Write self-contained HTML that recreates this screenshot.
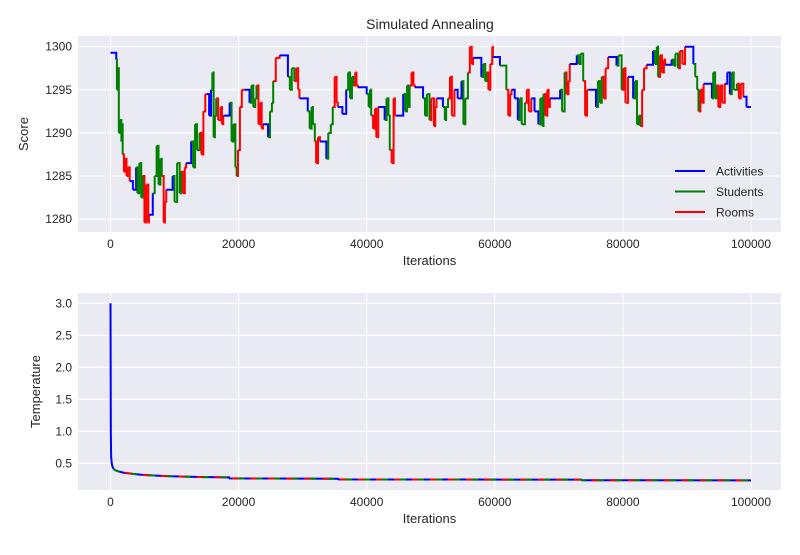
<!DOCTYPE html>
<html><head><meta charset="utf-8"><style>
body{margin:0;background:#fff;}
text{font-family:"Liberation Sans",Arial,sans-serif;fill:#262626;}
</style></head><body>
<svg id="svg" width="800" height="550" xmlns="http://www.w3.org/2000/svg">
<rect x="0" y="0" width="800" height="550" fill="#fff"/>
<g id="topPanel"></g>
<g id="botPanel"></g>
</svg>
<script>
const xTicks = [0, 20000, 40000, 60000, 80000, 100000];
const scoreTicks = [1280, 1285, 1290, 1295, 1300];
const tempTicks = [0.5, 1.0, 1.5, 2.0, 2.5, 3.0];
const moveNames = ["Activities", "Students", "Rooms"];
// iterations in thousands, score, move type (A/S/R)
const scoreIters = [0,0.9,1.0,1.1,1.3,1.5,1.7,1.8,1.9,2.1,2.3,2.5,2.7,3.0,3.5,4.0,4.2,4.5,4.8,5.0,5.3,5.6,5.9,6.0,6.6,6.9,7.2,7.5,7.8,8.0,8.3,8.5,8.7,9.7,10.0,10.4,10.8,11.0,11.3,11.6,11.8,12.6,12.9,13.2,13.5,13.9,14.2,14.5,14.8,15.0,15.4,15.7,15.9,16.1,16.3,16.5,16.8,17.2,17.4,17.6,18.6,18.9,19.2,19.5,19.7,19.9,20.2,20.5,20.9,21.7,22.0,22.3,22.6,22.8,23.1,23.4,23.6,23.8,24.6,24.9,25.2,25.4,25.8,26.4,27.7,28.0,28.3,28.7,29.0,29.3,29.5,30.8,31.1,31.4,31.6,31.9,32.1,32.4,32.7,33.7,34.0,34.4,34.7,35.0,35.3,35.5,36.2,36.8,37.1,37.4,37.7,37.9,38.2,38.4,38.6,40.0,40.3,40.5,40.7,41.0,41.3,41.5,41.8,42.8,43.1,43.4,43.6,43.9,44.2,44.4,44.6,45.7,46.0,46.3,46.5,46.7,47.0,47.3,47.5,48.8,49.1,49.4,49.8,50.1,50.5,50.7,50.9,51.9,52.2,52.4,52.7,53.0,53.3,53.7,54.2,54.8,55.1,55.4,55.8,56.1,56.4,56.6,57.9,58.2,58.5,58.7,59.0,59.3,59.6,59.7,60.8,61.8,62.1,62.4,62.6,63.1,63.6,63.9,64.2,64.7,65.0,65.3,65.7,66.2,66.8,67.1,67.4,67.6,67.9,68.2,68.4,68.6,70.2,70.5,70.9,71.2,71.5,71.7,72.8,73.1,73.4,73.8,74.1,74.4,74.7,75.8,76.1,76.4,76.7,77.0,77.3,77.7,79.0,79.3,79.8,80.1,80.4,80.8,81.6,81.9,82.2,82.5,82.7,83.0,83.3,83.7,84.7,85.0,85.3,85.5,85.8,86.1,86.4,86.6,87.6,87.9,88.2,88.6,88.9,89.3,89.7,91.0,91.3,91.6,91.8,92.1,92.3,92.6,93.9,94.1,94.4,94.6,94.9,95.2,95.5,95.9,96.3,96.7,97.0,97.3,97.8,98.1,98.4,98.8,99.3,100];
const scoreValues = [1299.3,1298.5,1295,1297.5,1290,1291.5,1289,1291,1287.5,1285.5,1287,1285,1286,1284.4,1283.4,1286,1283,1286.5,1282.5,1285,1279.6,1284,1279.6,1280.5,1283,1285,1288.5,1284,1287,1285,1279.6,1282,1283.4,1285,1282,1286.5,1283,1285.5,1283,1286,1286.5,1289,1286,1291,1288,1290,1287.5,1292.5,1294.5,1294.5,1292,1295,1297,1289.5,1292,1294,1291.5,1293,1291,1292,1293.5,1289,1291,1286,1285,1288,1293,1295,1295,1293.5,1295.5,1293,1294,1295.5,1291,1293.5,1290.5,1291,1289.5,1292.5,1293.5,1296,1298.7,1299,1296.5,1295,1297.5,1296,1297.5,1295,1294,1292.5,1290.5,1293,1291,1289,1286.5,1289.5,1289,1287,1290,1291,1293,1296.5,1293.5,1293,1292.2,1295,1297,1294,1296.5,1295.5,1297,1295.5,1295.3,1294.5,1293,1295,1292,1290.5,1292.8,1289.5,1293,1291.5,1294,1292,1288,1286.5,1294,1292,1292,1294.5,1292.5,1295.5,1293,1295.5,1297,1295.5,1295.3,1294,1292,1294.5,1291.5,1294,1290.8,1293,1294,1293,1291.5,1293,1294,1296.5,1292,1295,1294,1296,1291,1294,1297,1300,1298,1298.7,1296.5,1298,1296,1297,1295,1298,1300,1298.8,1297.8,1295,1292,1294.5,1295,1294,1291.5,1294,1291,1293.5,1295,1292.5,1294,1292.5,1291,1294,1290.8,1294.5,1292,1295,1293,1294,1295,1292.5,1297,1294.5,1296,1298,1299,1298,1299.2,1296,1292,1295,1295,1293,1296,1293.5,1296.5,1294,1297.5,1298.8,1297.8,1299,1295,1297.5,1293.5,1296.5,1294,1296,1291,1292,1290.8,1295,1297.5,1297.9,1299.5,1298,1300,1296.5,1299,1297,1298.5,1297.9,1298.5,1297.8,1299.2,1297.5,1299.5,1298,1300,1298,1296.5,1295,1292.5,1295,1293.5,1295.7,1294,1297,1294,1295.5,1293,1295.5,1293.5,1295.7,1297,1294.5,1297,1295,1295.7,1294,1295.7,1294.2,1293,1293];
const scoreMoves = ("A SSSSSSS RRRRR AA SSSS RRRR A SSSSS RRR A SSSS RRR A SSSS RRRR AA SSSS RRRR A SSSS RRRR A SSSS RRRR A SSS RR A SSS RRR A SSSS RRR A SSS RRR AA SSSS RRR A SSS RRRR A SSS RRRR A SSSS RRR A SSS RRRR A SSS RRR AA SSS RRR A SSS RRRR A S RRR AA SSS RRR AA SSS RRRR A SS RRR A SSS RRR A SSS RRR A SS RRR A SSSS RRR A SSS RRRR A SSS RRR A SSS RRR A SSS RRRR AA SSS RRR AA A").replace(/ /g,"");
// temperature curve
const tempIters = [0,50,100,200,300,500,800,1200,2000,3500,5000,7500,10000,14000,18500,18600,25000,35500,35600,55000,73500,73600,100000];
const tempValues = [3.0,1.0,0.6,0.5,0.45,0.41,0.39,0.375,0.355,0.335,0.32,0.305,0.295,0.285,0.28,0.265,0.262,0.258,0.248,0.246,0.244,0.236,0.234];

const NS="http://www.w3.org/2000/svg";
function mk(parent,tag,attrs,text){const e=document.createElementNS(NS,tag);for(const k in attrs)e.setAttribute(k,attrs[k]);if(text!==undefined)e.textContent=text;parent.appendChild(e);return e;}
const colors={A:"#0000ff",S:"#008000",R:"#ff0000"};
const X0=78,X1=781;
function xs(it){return 110.5+it/100000*640.5;}

function panel(g,y0,y1,ticks,fmt,ylabel,ylabelX,yOf){
  const bg=mk(g,'rect',{x:X0,y:y0,width:X1-X0,height:y1-y0,fill:'#eaeaf2'});
  
  
  ticks.forEach(t=>{const y=yOf(t);
    const l=mk(g,'line',{x1:X0,x2:X1,y1:y,y2:y,stroke:'#fff','stroke-width':1});
    
    
    const tx=mk(g,'text',{x:X0-6,y:y+4,'text-anchor':'end','font-size':12},fmt(t));
    
    });
  xTicks.forEach(t=>{const x=xs(t);
    const l=mk(g,'line',{x1:x,x2:x,y1:y0,y2:y1,stroke:'#fff','stroke-width':1});
    
    
    const tx=mk(g,'text',{x:x,y:y1+16,'text-anchor':'middle','font-size':12},String(t));
    
    });
  const xl=mk(g,'text',{x:(X0+X1)/2,y:y1+33,'text-anchor':'middle','font-size':13},'Iterations');
  
  
  const yl=mk(g,'text',{x:0,y:0,'text-anchor':'middle','font-size':13,transform:`translate(${ylabelX},${(y0+y1)/2}) rotate(-90)`},ylabel);
  
  
}

// top panel
const topG=document.getElementById('topPanel');
const sY=v=>46.7+(1300-v)*8.62;
const title=mk(topG,'text',{x:430,y:29,'text-anchor':'middle','font-size':14},'Simulated Annealing');


panel(topG,36,232,scoreTicks,t=>String(t),'Score',28,sY);
for(let i=0;i<scoreIters.length-1;i++){
  const x1=xs(scoreIters[i]*1000),x2=xs(scoreIters[i+1]*1000);
  const c=colors[scoreMoves[i]]||"#0000ff";
  const p=mk(topG,'path',{d:`M${x1},${sY(scoreValues[i])}H${x2}V${sY(scoreValues[i+1])}`,fill:'none',stroke:c,'stroke-width':2});
  
  
}
// legend
const leg=mk(topG,'g',{});


moveNames.forEach((n,i)=>{const y=171+i*20.5;
  const l=mk(leg,'line',{x1:675,x2:705,y1:y,y2:y,stroke:colors["ASR"[i]],'stroke-width':2});
  
  
  const t=mk(leg,'text',{x:716,y:y+4.5,'font-size':12},n);
  
  });

// bottom panel
const botG=document.getElementById('botPanel');
const tY=v=>463.3-(v-0.5)*64;
panel(botG,293,490,tempTicks,t=>t.toFixed(1),'Temperature',40,tY);
let dHead='',dTail='';
tempIters.forEach((it,i)=>{
  const pt=xs(it)+','+tY(tempValues[i]);
  if(it<=500) dHead+=(dHead?'L':'M')+pt;
  if(it>=500) dTail+=(dTail?'L':'M')+pt;
});
const head=mk(botG,'path',{d:dHead,fill:'none',stroke:'#0000ff','stroke-width':2});


[["#0000ff",null,0],["#008000","6 12",0],["#ff0000","6 12",6]].forEach(([c,da,off])=>{
  const p=mk(botG,'path',{d:dTail,fill:'none',stroke:c,'stroke-width':2});
  if(da){p.setAttribute('stroke-dasharray',da);p.setAttribute('stroke-dashoffset',off);}
  
  
});
</script>
</body></html>
